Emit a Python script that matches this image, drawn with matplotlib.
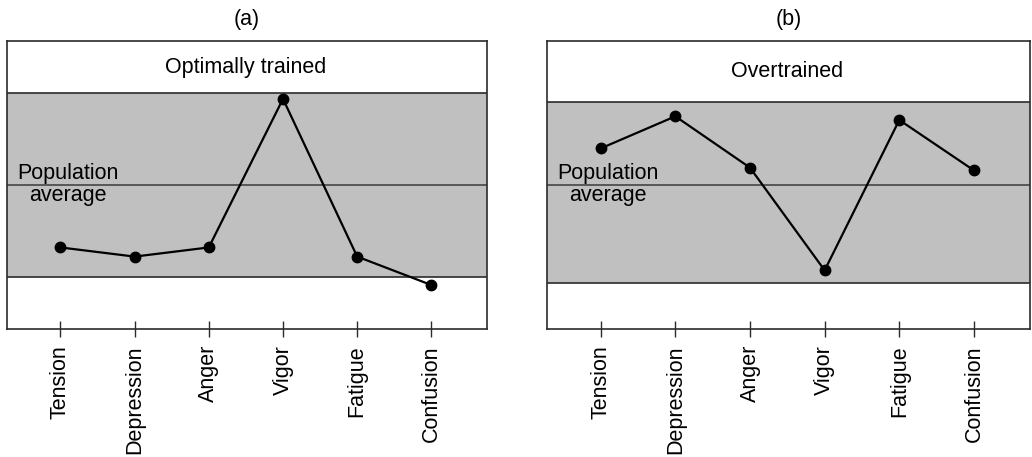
import matplotlib
matplotlib.use("Agg")
import matplotlib.pyplot as plt
import numpy as np

plt.rcParams['font.family'] = ['Liberation Sans', 'DejaVu Sans']

# Mood profile scales (POMS)
scales = ["Tension", "Depression", "Anger", "Vigor", "Fatigue", "Confusion"]

# Scores on a standardised scale, population average = 50
optimal_scores = [43.2, 42.2, 43.2, 59.4, 42.2, 39.1]
overtrained_scores = [54.0, 57.5, 51.9, 40.7, 57.1, 51.6]

# Normal range (shaded band) for each panel
optimal_band = [40.0, 60.0]
overtrained_band = [39.3, 59.1]
population_avg = 50.0

Y_LIMITS = (34.3, 65.7)
BAND_GRAY = "#c0c0c0"
EDGE = "#2b2b2b"
FS = 15.5


def draw_panel(ax, scores, band, title, letter):
    x = np.arange(len(scales))

    ax.axhspan(band[0], band[1], facecolor=BAND_GRAY, edgecolor='none', zorder=0)
    for yv in (band[0], band[1]):
        ax.axhline(yv, color=EDGE, linewidth=1.2, zorder=1)
    ax.axhline(population_avg, color="#3a3a3a", linewidth=1.1, zorder=1)

    ax.plot(x, scores, color='black', linewidth=1.6, marker='o',
            markersize=7.5, zorder=3)

    ax.set_xlim(-0.72, 5.75)
    ax.set_ylim(*Y_LIMITS)
    ax.set_xticks(x)
    ax.set_xticklabels(scales, rotation=90, fontsize=FS)
    ax.set_yticks([])
    ax.tick_params(axis='x', direction='inout', length=11, width=1.0,
                   color=EDGE, pad=6)

    for side in ax.spines.values():
        side.set_color(EDGE)
        side.set_linewidth(1.2)

    # Label in the white area above the band
    title_y = (band[1] + Y_LIMITS[1]) / 2
    ax.text(2.5, title_y, title, ha='center', va='center', fontsize=FS)
    ax.text(0.1, population_avg + 0.1, "Population\naverage", ha='center',
            va='center', fontsize=FS, linespacing=1.05)

    ax.text(0.5, 1.075, letter, transform=ax.transAxes, ha='center',
            va='center', fontsize=FS)


fig = plt.figure(figsize=(10.32, 4.57), dpi=100)
ax1 = fig.add_axes([0.0068, 0.280, 0.4651, 0.630])
ax2 = fig.add_axes([0.5300, 0.280, 0.4680, 0.630])

draw_panel(ax1, optimal_scores, optimal_band, "Optimally trained", "(a)")
draw_panel(ax2, overtrained_scores, overtrained_band, "Overtrained", "(b)")

fig.savefig("out.png", dpi=100)
